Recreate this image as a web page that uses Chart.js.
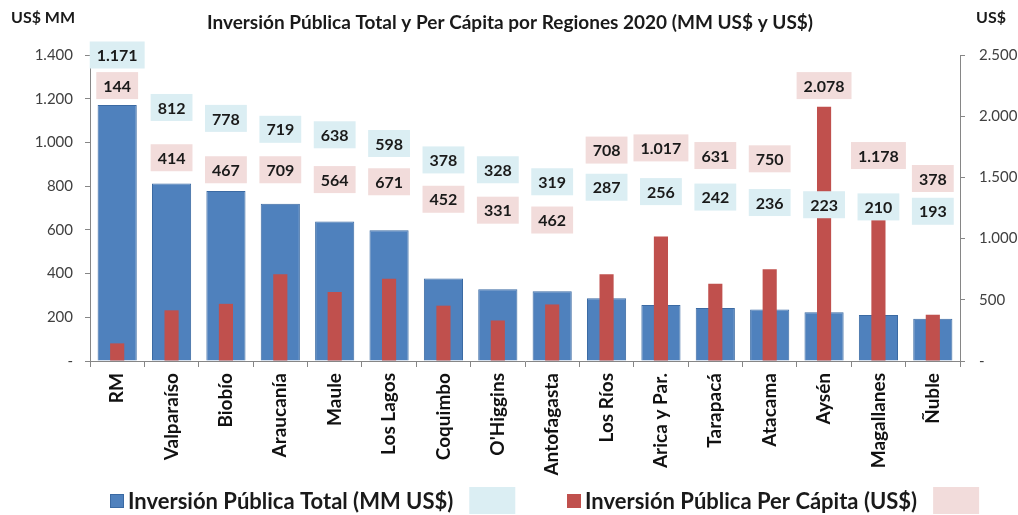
<!DOCTYPE html>
<html>
<head>
<meta charset="utf-8">
<script src="https://cdn.jsdelivr.net/npm/chart.js@4.4.0/dist/chart.umd.min.js"></script>
<style>
  html, body { margin: 0; padding: 0; background: #fff; }
  #wrap { width: 1018px; height: 515px; position: relative; }
</style>
</head>
<body>
<div id="wrap"><canvas id="myChart" width="1018" height="515"></canvas></div>
<script>
// regiones y valores 2020
const regiones = ['RM', 'Valparaíso', 'Biobío', 'Araucanía', 'Maule', 'Los Lagos', 'Coquimbo', "O'Higgins",
  'Antofagasta', 'Los Ríos', 'Arica y Par.', 'Tarapacá', 'Atacama', 'Aysén', 'Magallanes', 'Ñuble'];
const inversionTotal = [1171, 812, 778, 719, 638, 598, 378, 328, 319, 287, 256, 242, 236, 223, 210, 193]; // MM US$
const inversionPerCapita = [144, 414, 467, 709, 564, 671, 452, 331, 462, 708, 1017, 631, 750, 2078, 1178, 378]; // US$

const ticksTotal = [0, 200, 400, 600, 800, 1000, 1200, 1400];
const ticksPerCapita = [0, 500, 1000, 1500, 2000, 2500];

// altura donde va cada etiqueta (en unidades del eje izquierdo)
const etiquetaTotalEn = [1400, 1160, 1110, 1060, 1035, 995, 920, 875, 820, 795, 775, 750, 725, 715, 705, 685];
const etiquetaPerCapitaEn = [1260, 930, 875, 875, 830, 820, 740, 690, 645, 965, 975, 940, 925, 1260, 940, 835];

const azul = '#4f81bd';
const azulBorde = '#3b6aa3';
const rojo = '#c0504d';
const celeste = '#dbeef3';
const rosado = '#f2dcdb';
const gris = '#868686';
const fuente = 'Lato, "Open Sans", sans-serif';

// numero con punto de miles
function formato(v) {
  return String(v).replace(/\B(?=(\d{3})+(?!\d))/g, '.');
}

// etiquetas con caja de color sobre las barras
const etiquetas = {
  id: 'etiquetas',
  afterDatasetsDraw(chart) {
    const ctx = chart.ctx;
    const x = chart.scales.x;
    const y = chart.scales.y;
    ctx.save();
    ctx.font = 'bold 16px ' + fuente;
    ctx.textAlign = 'center';
    ctx.textBaseline = 'middle';
    const caja = (texto, cx, cy, fondo) => {
      const w = ctx.measureText(texto).width + 14;
      const h = 27;
      ctx.fillStyle = fondo;
      ctx.fillRect(cx - w / 2, cy - h / 2, w, h);
      ctx.fillStyle = '#1a1a1a';
      ctx.fillText(texto, cx, cy + 1);
    };
    regiones.forEach((r, i) => {
      const cx = x.getPixelForValue(i);
      caja(formato(inversionTotal[i]), cx, y.getPixelForValue(etiquetaTotalEn[i]), celeste);
      caja(formato(inversionPerCapita[i]), cx, y.getPixelForValue(etiquetaPerCapitaEn[i]), rosado);
    });
    ctx.restore();
  }
};

// titulo, unidades de los ejes y leyenda
const textos = {
  id: 'textos',
  afterDraw(chart) {
    const ctx = chart.ctx;
    ctx.save();
    ctx.fillStyle = '#1a1a1a';
    ctx.textBaseline = 'middle';

    ctx.font = 'bold 19px ' + fuente;
    ctx.textAlign = 'center';
    ctx.fillText('Inversión Pública Total y Per Cápita por Regiones 2020 (MM US$ y US$)', 510, 23);

    ctx.font = 'bold 16px ' + fuente;
    ctx.textAlign = 'left';
    ctx.fillText('US$ MM', 11, 18);
    ctx.fillText('US$', 976, 18);

    // leyenda
    const ly = 501;
    ctx.font = 'bold 22px ' + fuente;
    const items = [
      { color: azul, borde: azulBorde, texto: 'Inversión Pública Total (MM US$)', caja: celeste },
      { color: rojo, borde: rojo, texto: 'Inversión Pública Per Cápita (US$)', caja: rosado }
    ];
    let lx = 110;
    items.forEach((it) => {
      ctx.fillStyle = it.color;
      ctx.fillRect(lx, ly - 7, 14, 14);
      ctx.strokeStyle = it.borde;
      ctx.lineWidth = 1;
      ctx.strokeRect(lx + 0.5, ly - 6.5, 13, 13);
      ctx.fillStyle = '#1a1a1a';
      ctx.fillText(it.texto, lx + 18, ly + 1);
      const tw = ctx.measureText(it.texto).width;
      ctx.fillStyle = it.caja;
      ctx.fillRect(lx + 18 + tw + 16, ly - 14, 46, 27);
      lx = 567;
    });
    ctx.restore();
  }
};

const ctx = document.getElementById('myChart');

const myChart = new Chart(ctx, {
  type: 'bar',
  data: {
    labels: regiones,
    datasets: [
      {
        label: 'Inversión Pública Total (MM US$)',
        data: inversionTotal,
        yAxisID: 'y',
        backgroundColor: azul,
        borderColor: azulBorde,
        borderWidth: 1,
        grouped: false,
        categoryPercentage: 1,
        barPercentage: 0.72,
        order: 2
      },
      {
        label: 'Inversión Pública Per Cápita (US$)',
        data: inversionPerCapita,
        yAxisID: 'y1',
        backgroundColor: rojo,
        borderWidth: 0,
        grouped: false,
        categoryPercentage: 1,
        barPercentage: 0.26,
        order: 1
      }
    ]
  },
  options: {
    responsive: false,
    animation: false,
    layout: { padding: { top: 55, left: 0, right: 0, bottom: 0 } },
    plugins: {
      legend: { display: false },
      tooltip: { enabled: false }
    },
    scales: {
      x: {
        offset: true,
        grid: { offset: true, drawOnChartArea: false, drawTicks: true, tickLength: 6, color: gris },
        border: { display: true, color: gris, width: 1 },
        ticks: {
          autoSkip: false, minRotation: 90, maxRotation: 90, padding: 6,
          color: '#111', font: { family: fuente, size: 19, weight: 'bold' }
        },
        afterFit: s => { s.height = 154; }
      },
      y: {
        position: 'left',
        min: 0, max: 1400,
        afterBuildTicks: s => { s.ticks = ticksTotal.map(v => ({ value: v })); },
        grid: { drawOnChartArea: false, drawTicks: true, tickLength: 5, color: gris },
        border: { display: true, color: gris, width: 1 },
        ticks: {
          padding: 12, color: '#404040', font: { family: fuente, size: 15 },
          callback: v => v === 0 ? '-' : formato(v)
        },
        afterFit: s => { s.width = 90; }
      },
      y1: {
        position: 'right',
        min: 0, max: 2500,
        afterBuildTicks: s => { s.ticks = ticksPerCapita.map(v => ({ value: v })); },
        grid: { drawOnChartArea: false, drawTicks: true, tickLength: 5, color: gris },
        border: { display: true, color: gris, width: 1 },
        ticks: {
          padding: 14, color: '#404040', font: { family: fuente, size: 15 },
          callback: v => v === 0 ? '-' : formato(v)
        },
        afterFit: s => { s.width = 58; }
      }
    }
  },
  plugins: [etiquetas, textos]
});
</script>
</body>
</html>
